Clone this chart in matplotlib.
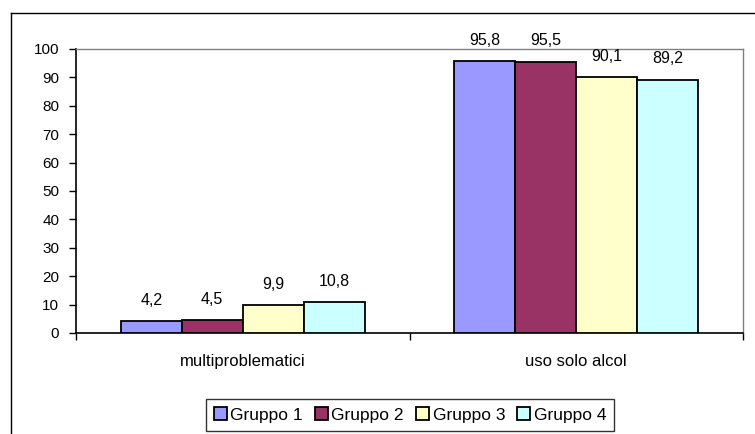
import numpy as np
import matplotlib
matplotlib.use("Agg")
import matplotlib.pyplot as plt
from matplotlib.lines import Line2D

plt.rcParams['font.family'] = ['Liberation Sans', 'DejaVu Sans']

categories = ["multiproblematici", "uso solo alcol"]
groups = ["Gruppo 1", "Gruppo 2", "Gruppo 3", "Gruppo 4"]
values = [
    [4.2, 95.8],
    [4.5, 95.5],
    [9.9, 90.1],
    [10.8, 89.2],
]
colors = ["#9999FF", "#993366", "#FFFFCC", "#CCFFFF"]

W, H = 755, 434
fig = plt.figure(figsize=(W / 100, H / 100), dpi=100)
# plot area in pixels: x 76..743, y 49..333
ax = fig.add_axes([76 / W, 1 - 333 / H, (743 - 76) / W, (333 - 49) / H])

x = np.arange(len(categories))
bw = 0.183
for i, g in enumerate(groups):
    pos = x + (i - 1.5) * bw
    bars = ax.bar(pos, values[i], width=bw, color=colors[i], edgecolor="black",
                  linewidth=1.3, label=g, zorder=3)
    for b, v in zip(bars, values[i]):
        ax.annotate(str(v).replace(".", ","), (b.get_x() + bw / 2, v),
                    xytext=(0, 15), textcoords="offset points",
                    ha="center", va="center", fontsize=11.5)

ax.set_xlim(-0.5, 1.5)
ax.set_ylim(0, 100)
ax.set_yticks(range(0, 101, 10))
ax.tick_params(axis="y", direction="out", length=5, width=1, labelsize=11, pad=7)
ax.set_xticks([-0.5, 0.5, 1.5])
ax.set_xticklabels([])
ax.set_xticks(x, minor=True)
ax.set_xticklabels(categories, minor=True, fontsize=12)
ax.tick_params(axis="x", which="major", direction="out", length=5, width=1)
ax.tick_params(axis="x", which="minor", length=0, pad=15)

for s in ["top", "right"]:
    ax.spines[s].set_color("#808080")
    ax.spines[s].set_linewidth(1)
for s in ["left", "bottom"]:
    ax.spines[s].set_color("black")
    ax.spines[s].set_linewidth(1.2)

leg = fig.legend(loc="center", bbox_to_anchor=(410 / W, 1 - 415 / H), ncol=4,
                 fontsize=12.5, frameon=True, fancybox=False, edgecolor="black",
                 handlelength=0.75, handleheight=0.75, handletextpad=0.2,
                 columnspacing=0.7, borderpad=0.45)
leg.get_frame().set_linewidth(1)

# outer chart border (cut off at right and bottom)
fig.add_artist(Line2D([10.5 / W, 10.5 / W], [0, 1 - 12.5 / H], color="black", lw=1,
                      transform=fig.transFigure))
fig.add_artist(Line2D([10.5 / W, 1], [1 - 12.5 / H, 1 - 12.5 / H], color="black", lw=1,
                      transform=fig.transFigure))

fig.savefig("out.png", dpi=100)
